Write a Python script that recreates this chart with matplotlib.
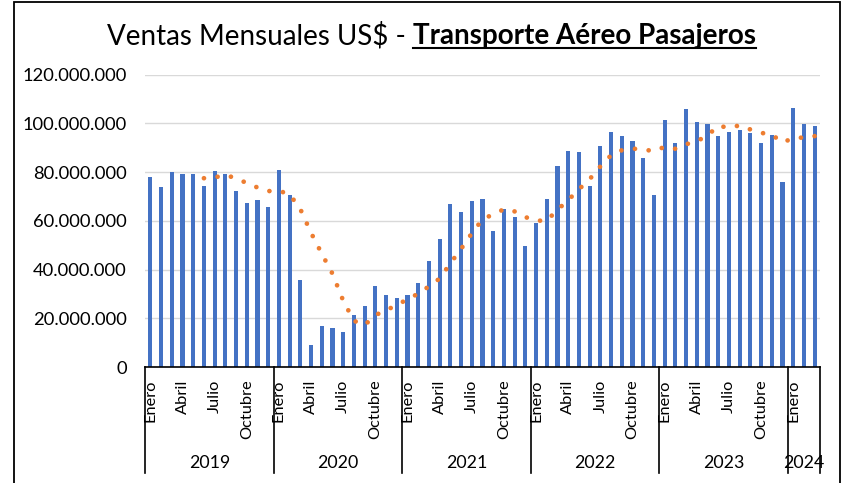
import numpy as np
import pandas as pd
import matplotlib.pyplot as plt
from matplotlib.patches import Rectangle
from matplotlib.lines import Line2D
from matplotlib.ticker import FuncFormatter
import matplotlib.transforms as mtransforms

plt.rcParams['font.family'] = ['Lato', 'DejaVu Sans']

# Ventas mensuales (millones de US$)
ventas_2019 = [78.2, 73.7, 80.1, 79.3, 79.3, 74.4, 80.3, 79.4, 72.3, 67.3, 68.4, 65.6]
ventas_2020 = [81.0, 70.7, 35.8, 8.9, 17.0, 16.2, 14.5, 21.4, 25.2, 33.3, 29.5, 28.2]
ventas_2021 = [29.7, 34.5, 43.4, 52.6, 67.0, 63.6, 68.2, 68.8, 56.0, 64.9, 61.7, 49.7]
ventas_2022 = [59.3, 69.0, 82.6, 88.8, 88.4, 74.5, 90.8, 96.6, 94.8, 92.9, 86.0, 70.8]
ventas_2023 = [101.2, 91.8, 105.9, 100.4, 99.9, 94.9, 96.5, 97.5, 95.9, 92.1, 95.4, 76.0]
ventas_2024 = [106.4, 99.7, 99.1]

years = ["2019", "2020", "2021", "2022", "2023", "2024"]
meses = ["Enero", "Febrero", "Marzo", "Abril", "Mayo", "Junio", "Julio",
         "Agosto", "Septiembre", "Octubre", "Noviembre", "Diciembre"]
meses_visibles = ["Enero", "Abril", "Julio", "Octubre"]

series = [ventas_2019, ventas_2020, ventas_2021, ventas_2022, ventas_2023, ventas_2024]
valores = np.concatenate([np.array(s) for s in series]) * 1e6
etiquetas = [m for s in series for m in meses[:len(s)]]
x = np.arange(len(valores))

# media movil de 6 periodos (linea de tendencia de Excel)
media_movil = pd.Series(valores).rolling(6).mean()

W, H = 844, 483
fig = plt.figure(figsize=(W / 100, H / 100), dpi=100)
ax = fig.add_axes([145 / W, 1 - 367 / H, (820 - 145) / W, (367 - 74.7) / H])

ax.bar(x, valores, width=0.38, color="#4472C4", zorder=2)
ax.plot(x, media_movil, color="#ED7D31", linewidth=3.4,
        linestyle=(0, (0.01, 2.9)), dash_capstyle="round", zorder=3)

ax.set_xlim(-0.5, len(valores) - 0.5)
ax.set_ylim(0, 120e6)
ax.set_yticks(np.arange(0, 120e6 + 1, 20e6))
ax.yaxis.set_major_formatter(FuncFormatter(lambda v, p: f"{int(v):,}".replace(",", ".")))
ax.grid(axis="y", color="#D9D9D9", linewidth=1, zorder=0)
ax.set_axisbelow(True)

for s in ["left", "right", "top"]:
    ax.spines[s].set_visible(False)
ax.spines["bottom"].set_color("black")
ax.spines["bottom"].set_linewidth(1.2)

idx = [i for i, m in enumerate(etiquetas) if m in meses_visibles]
ax.set_xticks(idx)
ax.set_xticklabels([etiquetas[i] for i in idx], rotation=90, va="top", fontsize=11.8)
ax.tick_params(axis="x", length=0, pad=9)
ax.tick_params(axis="y", length=0, labelsize=13.2, pad=13)

# segundo nivel del eje: años con separadores
trans = mtransforms.blended_transform_factory(ax.transData, ax.transAxes)
inicio = 0
for yr, s in zip(years, series):
    fin = inicio + len(s)
    ax.add_line(Line2D([inicio - 0.5, inicio - 0.5], [0, -0.363], transform=trans,
                       color="black", linewidth=1.2, clip_on=False))
    ax.text((inicio + fin - 1) / 2, -0.328, yr, transform=trans, ha="center",
            va="center", fontsize=12.8, clip_on=False)
    inicio = fin
ax.add_line(Line2D([inicio - 0.5, inicio - 0.5], [0, -0.363], transform=trans,
                   color="black", linewidth=1.2, clip_on=False))

# titulo en dos partes, la segunda en negrita y subrayada
renderer = fig.canvas.get_renderer()
ty = 1 - 44 / H
t1 = fig.text(107 / W, ty, "Ventas Mensuales US$ - ", fontsize=20, va="baseline")
bb1 = t1.get_window_extent(renderer)
t2 = fig.text(bb1.x1 / W, ty, "Transporte Aéreo Pasajeros", fontsize=20,
              weight="bold", va="baseline")
bb2 = t2.get_window_extent(renderer)
uy = (bb2.y0 + 1) / H
fig.add_artist(Line2D([bb2.x0 / W, bb2.x1 / W], [uy, uy], transform=fig.transFigure,
                      color="black", linewidth=1.5))

# marco del grafico
fig.add_artist(Rectangle((14 / W, -0.05), (840 - 14) / W, 1.05 - 2 / H,
                         transform=fig.transFigure, fill=False,
                         edgecolor="black", linewidth=1.3))

fig.savefig("out.png", dpi=100)
